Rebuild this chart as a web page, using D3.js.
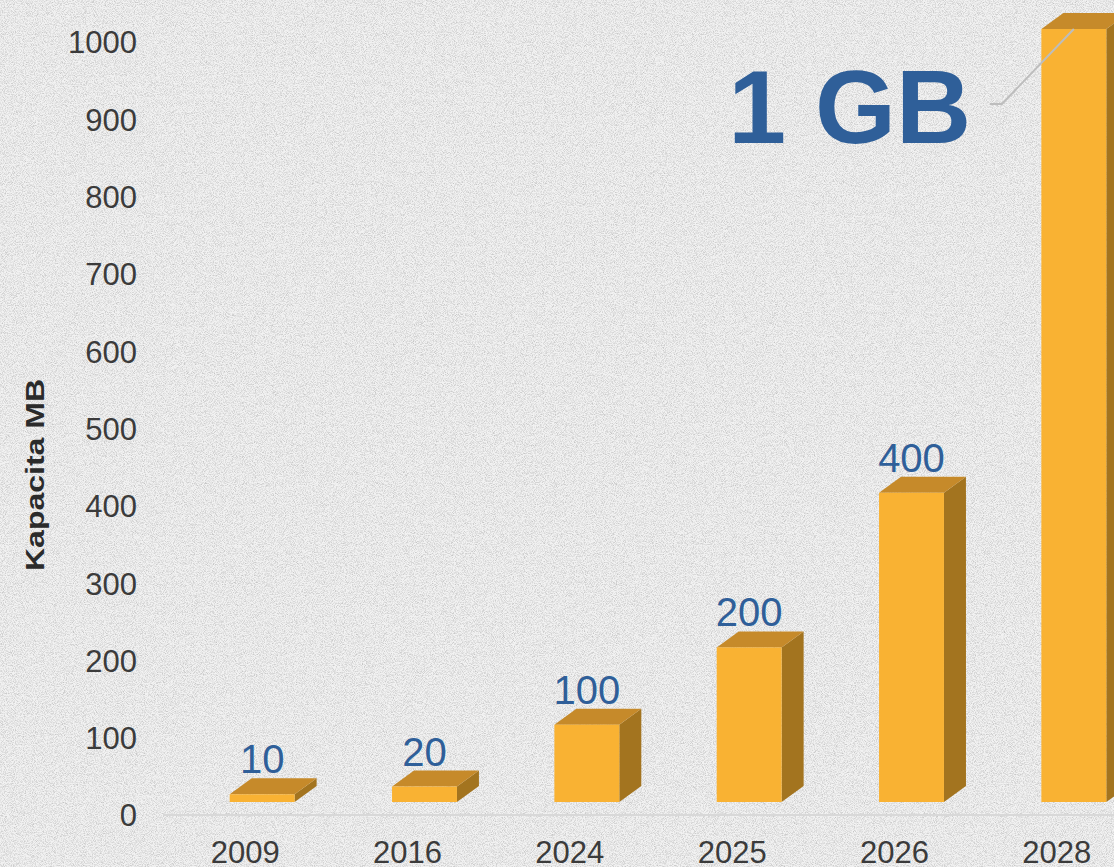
<!DOCTYPE html>
<html>
<head>
<meta charset="utf-8">
<script src="https://cdn.jsdelivr.net/npm/d3@7"></script>
<style>
  html, body { margin: 0; padding: 0; overflow: hidden; background: #eeeeee; }
  svg { display: block; font-family: "Liberation Sans", Arial, sans-serif; }
</style>
</head>
<body>
<div id="chart"></div>
<script>
// data
const years = ["2009", "2016", "2024", "2025", "2026", "2028"];
const capacity = [10, 20, 100, 200, 400, 1000];
const barLabels = ["10", "20", "100", "200", "400", ""];
const yTicks = [0, 100, 200, 300, 400, 500, 600, 700, 800, 900, 1000];
const bigLabel = "1 GB";

const w = 1114, h = 867;

const svg = d3.select("#chart").append("svg")
    .attr("width", w)
    .attr("height", h);

// noisy paper background
const defs = svg.append("defs");
const f = defs.append("filter").attr("id", "noise")
    .attr("x", 0).attr("y", 0).attr("width", "100%").attr("height", "100%");
f.append("feTurbulence")
    .attr("type", "fractalNoise")
    .attr("baseFrequency", 1.1)
    .attr("numOctaves", 2)
    .attr("seed", 7);
f.append("feColorMatrix")
    .attr("type", "matrix")
    .attr("values", "0 0 0 0 0.55  0 0 0 0 0.55  0 0 0 0 0.55  2.2 0 0 0 -0.88");

svg.append("rect").attr("width", w).attr("height", h).attr("fill", "#f2f2f2");
svg.append("rect").attr("width", w).attr("height", h).attr("filter", "url(#noise)");

// SCALES
const x = d3.scaleBand()
    .domain(years)
    .range([164, 1138])
    .padding(0);

const y = d3.scaleLinear()
    .domain([0, 1000])
    .range([816, 43]);

// 3d look
const frontW = x.bandwidth() * 0.4;
const shift = 17;      // front face sits right of the category centre
const lift = 14;       // front face sits above the axis zero
const dx = 22, dy = -16;

// AXES
const yAxis = svg.append("g")
    .attr("transform", "translate(137,0)")
    .call(d3.axisLeft(y).tickValues(yTicks).tickFormat(d3.format("d")).tickSize(0).tickPadding(0));
yAxis.select(".domain").remove();
yAxis.selectAll("text")
    .attr("fill", "#3b3b3b")
    .style("font-size", "31px")
    .style("font-family", "'Liberation Sans', Arial, sans-serif");

const xAxis = svg.append("g")
    .attr("transform", "translate(0," + y(0) + ")")
    .call(d3.axisBottom(x).tickSize(0).tickPadding(25));
xAxis.select(".domain").remove();
xAxis.selectAll("text")
    .attr("fill", "#3b3b3b")
    .style("font-size", "31px")
    .style("font-family", "'Liberation Sans', Arial, sans-serif");

// floor line
svg.append("line")
    .attr("x1", 163).attr("x2", w)
    .attr("y1", y(0) - 1).attr("y2", y(0) - 1)
    .attr("stroke", "#d8d8d8")
    .attr("stroke-width", 2);

// AXIS LABEL
svg.append("text")
    .text("Kapacita MB")
    .attr("transform", "translate(44,475) rotate(-90)")
    .attr("text-anchor", "middle")
    .attr("font-weight", "bold")
    .attr("font-size", 26)
    .attr("textLength", 192)
    .attr("lengthAdjust", "spacingAndGlyphs")
    .attr("fill", "#2b2b2b");

// BARS
const rows = years.map((yr, i) => ({ year: yr, value: capacity[i], label: barLabels[i] }));

const bars = svg.selectAll(".bar").data(rows).enter().append("g").attr("class", "bar");

const fx = (d) => x(d.year) + x.bandwidth() / 2 + shift - frontW / 2;
const fTop = (d) => y(d.value) - lift;
const fBot = y(0) - lift;

// side face
bars.append("path")
    .attr("d", (d) => {
        const x1 = fx(d) + frontW;
        return "M" + x1 + "," + fTop(d) + "L" + (x1 + dx) + "," + (fTop(d) + dy) +
            "L" + (x1 + dx) + "," + (fBot + dy) + "L" + x1 + "," + fBot + "Z";
    })
    .attr("fill", "#a3741f");

// top face
bars.append("path")
    .attr("d", (d) => {
        const x0 = fx(d), x1 = fx(d) + frontW, t = fTop(d);
        return "M" + x0 + "," + t + "L" + (x0 + dx) + "," + (t + dy) +
            "L" + (x1 + dx) + "," + (t + dy) + "L" + x1 + "," + t + "Z";
    })
    .attr("fill", "#c68a2a");

// front face
bars.append("rect")
    .attr("x", fx)
    .attr("y", fTop)
    .attr("width", frontW)
    .attr("height", (d) => fBot - fTop(d))
    .attr("fill", "#f9b233");

// value labels
bars.append("text")
    .text((d) => d.label)
    .attr("x", (d) => fx(d) + frontW / 2)
    .attr("y", (d) => fTop(d) + dy - 5)
    .attr("text-anchor", "middle")
    .attr("font-size", 40)
    .attr("fill", "#2f5f99");

// big "1 GB" label with leader line
const last = rows[rows.length - 1];
const tipX = fx(last) + frontW / 2, tipY = fTop(last);
svg.append("polyline")
    .attr("points", [[990, 104], [1002, 104], [tipX, tipY]].map(p => p.join(",")).join(" "))
    .attr("fill", "none")
    .attr("stroke", "#bdbdbd")
    .attr("stroke-width", 2);

svg.append("text")
    .text(bigLabel)
    .attr("x", 971)
    .attr("y", 143)
    .attr("text-anchor", "end")
    .attr("font-size", 104)
    .attr("font-weight", "bold")
    .attr("fill", "#2f5f99");
</script>
</body>
</html>
